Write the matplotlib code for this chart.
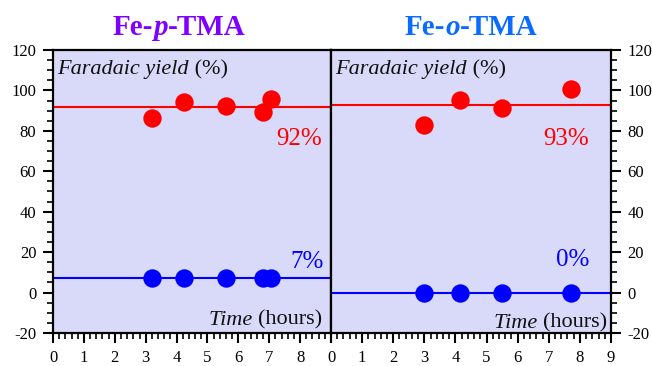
import numpy as np
import matplotlib
matplotlib.use('agg')
import matplotlib.pyplot as plt
from matplotlib.ticker import MultipleLocator

# data
p_time = [3.2, 4.25, 5.6, 6.8, 7.05]
p_fy_red = [86.5, 94.5, 92.5, 89.5, 96.0]
p_fy_blue = [7.0, 7.0, 7.0, 7.0, 7.2]
p_avg_red = 92
p_avg_blue = 7

o_time = [3.0, 4.15, 5.5, 7.7]
o_fy_red = [83.0, 95.5, 91.5, 100.5]
o_fy_blue = [0.0, 0.0, 0.0, 0.0]
o_avg_red = 93
o_avg_blue = 0

title_parts = [('Fe-', 'p', '-TMA'), ('Fe-', 'o', '-TMA')]
title_colors = ['#7f00ff', '#0a6cff']

plt.rcParams['font.family'] = 'Liberation Serif'
plt.rcParams['axes.unicode_minus'] = False

RED = '#ff0000'
BLUE = '#0000ff'
BG = '#d9d9fa'


def mixed_text(ax, x, y, parts, xycoords, **kw):
    # run of text pieces with their own styles, each one placed after the previous
    prev = None
    for txt, style in parts:
        if prev is None:
            prev = ax.annotate(txt, xy=(x, y), xycoords=xycoords, ha='left', va='baseline',
                               annotation_clip=False, **kw, **style)
        else:
            prev = ax.annotate(txt, xy=(1, 0), xycoords=prev, ha='left', va='bottom',
                               annotation_clip=False, **kw, **style)
    return prev


fig = plt.figure(figsize=(6.52, 3.66), dpi=100)
ax1 = fig.add_axes([0.0813, 0.0902, 0.4264, 0.7732])
ax2 = fig.add_axes([0.5077, 0.0902, 0.4294, 0.7732])

panels = [
    (ax1, p_time, p_fy_red, p_fy_blue),
    (ax2, o_time, o_fy_red, o_fy_blue),
]

for ax, t, red, blue in panels:
    ax.set_facecolor(BG)
    ax.set_xlim(0, 9)
    ax.set_ylim(-20, 120)
    ax.scatter(t, red, s=175, color=RED, zorder=3, linewidths=0)
    ax.scatter(t, blue, s=175, color=BLUE, zorder=3, linewidths=0)
    for sp in ax.spines.values():
        sp.set_linewidth(1.6)
    ax.xaxis.set_major_locator(MultipleLocator(1))
    ax.xaxis.set_minor_locator(MultipleLocator(0.2))
    ax.yaxis.set_major_locator(MultipleLocator(20))
    ax.yaxis.set_minor_locator(MultipleLocator(5))
    ax.tick_params(which='major', direction='out', length=7, width=1.5, labelsize=12, pad=5)
    ax.tick_params(which='minor', direction='out', length=4, width=1.2)
    mixed_text(ax, 0.016, 0.915, [('Faradaic yield', {'style': 'italic'}), (' (%)', {})],
               'axes fraction', fontsize=16, color='#111111')

ax1.axhline(p_avg_red, color=RED, lw=1.5, zorder=2)
ax1.axhline(p_avg_blue, color=BLUE, lw=1.5, zorder=2)
ax2.axhline(o_avg_red, color=RED, lw=1.5, zorder=2)
ax2.axhline(o_avg_blue, color=BLUE, lw=1.5, zorder=2)

# left panel: ticks on left only
ax1.tick_params(axis='y', which='both', left=True, right=False)
ax1.set_xticks(np.arange(0, 10, 1))
ax1.set_xticklabels([str(i) for i in range(9)] + [''])
ax1.text(8.72, 73, f'{p_avg_red}%', color=RED, fontsize=18, ha='right', va='baseline')
ax1.text(8.78, 12, f'{p_avg_blue}%', color=BLUE, fontsize=18, ha='right', va='baseline')
hrs1 = ax1.text(8.7, -16, '(hours)', fontsize=16, ha='right', va='baseline', color='#111111')
ax1.annotate('Time ', xy=(0, 0), xycoords=hrs1, ha='right', va='bottom',
             fontsize=16, style='italic', color='#111111')

# right panel: y axis on the right
ax2.yaxis.tick_right()
ax2.tick_params(axis='y', which='both', left=False, right=True)
ax2.text(8.3, 73, f'{o_avg_red}%', color=RED, fontsize=18, ha='right', va='baseline')
ax2.text(8.3, 13, f'{o_avg_blue}%', color=BLUE, fontsize=18, ha='right', va='baseline')
hrs2 = ax2.text(8.87, -17.5, '(hours)', fontsize=16, ha='right', va='baseline', color='#111111')
ax2.annotate('Time ', xy=(0, 0), xycoords=hrs2, ha='right', va='bottom',
             fontsize=16, style='italic', color='#111111')

# titles, with the isomer letter in bold italic
for lx, parts, col in zip([113 / 652, 405 / 652], title_parts, title_colors):
    mixed_text(ax1, lx, 1 - 35 / 366,
               [(parts[0], {}), (parts[1], {'style': 'italic'}), (parts[2], {})],
               'figure fraction', fontsize=21, fontweight='bold', color=col)

fig.savefig('out.png', dpi=100)
